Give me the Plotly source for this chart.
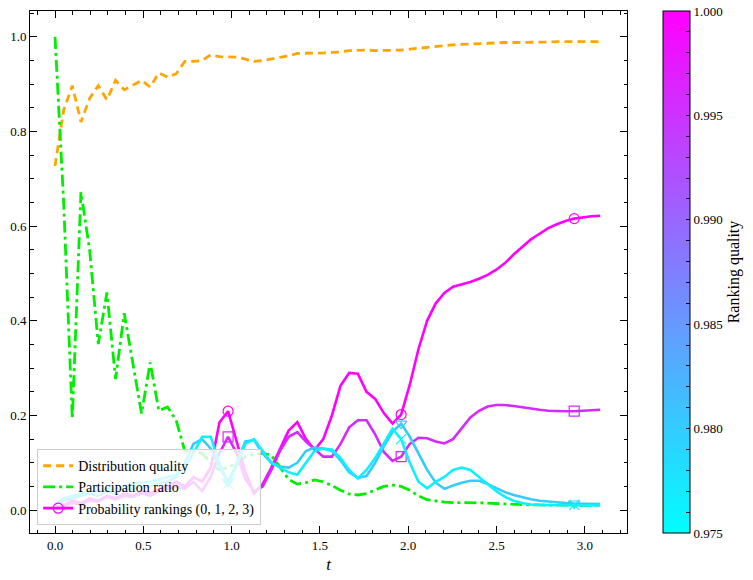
import numpy as np
import plotly.graph_objects as go

# ---------------- data ----------------
dt = 0.049
n_points = 64
t = [round(i * dt, 3) for i in range(n_points)]

distribution_quality = [
    0.727, 0.845, 0.897, 0.820, 0.870, 0.897, 0.867, 0.908, 0.888, 0.898,
    0.908, 0.894, 0.924, 0.915, 0.922, 0.948, 0.948, 0.950, 0.962, 0.958,
    0.958, 0.957, 0.953, 0.948, 0.950, 0.953, 0.956, 0.960, 0.965, 0.965,
    0.966, 0.966, 0.967, 0.968, 0.971, 0.972, 0.972, 0.971, 0.971, 0.971,
    0.972, 0.974, 0.976, 0.978, 0.980, 0.982, 0.983, 0.984, 0.985, 0.986,
    0.987, 0.987, 0.988, 0.988, 0.988, 0.989, 0.989, 0.989, 0.990, 0.990,
    0.990, 0.990, 0.990, 0.990]

participation_ratio = [
    1.000, 0.650, 0.193, 0.672, 0.550, 0.351, 0.460, 0.277, 0.416, 0.310,
    0.204, 0.312, 0.210, 0.218, 0.190, 0.125, 0.125, 0.120, 0.100, 0.085,
    0.090, 0.100, 0.113, 0.118, 0.120, 0.116, 0.090, 0.065, 0.055, 0.058,
    0.064, 0.060, 0.052, 0.042, 0.034, 0.032, 0.035, 0.042, 0.050, 0.053,
    0.050, 0.042, 0.030, 0.022, 0.019, 0.017, 0.016, 0.016, 0.015, 0.015,
    0.015, 0.014, 0.013, 0.012, 0.012, 0.011, 0.011, 0.011, 0.010, 0.010,
    0.010, 0.010, 0.010, 0.010]

rank_0 = [
    0.005, 0.010, 0.020, 0.015, 0.025, 0.020, 0.030, 0.025, 0.035, 0.030,
    0.040, 0.035, 0.045, 0.050, 0.060, 0.050, 0.070, 0.060, 0.090, 0.185,
    0.209, 0.145, 0.080, 0.035, 0.055, 0.090, 0.130, 0.168, 0.186, 0.150,
    0.127, 0.150, 0.200, 0.263, 0.290, 0.288, 0.250, 0.235, 0.205, 0.183,
    0.202, 0.265, 0.340, 0.400, 0.437, 0.459, 0.472, 0.477, 0.482, 0.489,
    0.497, 0.508, 0.522, 0.540, 0.556, 0.572, 0.584, 0.596, 0.604, 0.611,
    0.616, 0.619, 0.621, 0.622]

rank_1 = [
    0.003, 0.008, 0.015, 0.012, 0.020, 0.018, 0.028, 0.022, 0.030, 0.028,
    0.035, 0.030, 0.040, 0.045, 0.050, 0.045, 0.060, 0.040, 0.070, 0.120,
    0.155, 0.120, 0.065, 0.040, 0.050, 0.085, 0.125, 0.155, 0.165, 0.145,
    0.128, 0.113, 0.113, 0.140, 0.175, 0.190, 0.190, 0.160, 0.123, 0.104,
    0.113, 0.140, 0.153, 0.152, 0.145, 0.141, 0.150, 0.172, 0.196, 0.210,
    0.219, 0.222, 0.222, 0.220, 0.217, 0.214, 0.212, 0.210, 0.209, 0.209,
    0.209, 0.210, 0.211, 0.212]

rank_2 = [
    0.010, 0.020, 0.025, 0.030, 0.035, 0.030, 0.040, 0.035, 0.045, 0.045,
    0.050, 0.050, 0.058, 0.060, 0.070, 0.100, 0.140, 0.150, 0.130, 0.090,
    0.060, 0.100, 0.145, 0.148, 0.120, 0.100, 0.092, 0.090, 0.100, 0.125,
    0.132, 0.130, 0.125, 0.105, 0.080, 0.068, 0.072, 0.100, 0.135, 0.165,
    0.183, 0.155, 0.120, 0.085, 0.058, 0.045, 0.052, 0.058, 0.062, 0.062,
    0.055, 0.047, 0.038, 0.032, 0.027, 0.023, 0.020, 0.018, 0.016, 0.015,
    0.014, 0.014, 0.013, 0.013]

rank_3 = [
    0.012, 0.025, 0.030, 0.035, 0.040, 0.040, 0.045, 0.045, 0.050, 0.055,
    0.058, 0.060, 0.065, 0.070, 0.075, 0.090, 0.120, 0.155, 0.155, 0.100,
    0.055, 0.095, 0.140, 0.150, 0.125, 0.100, 0.090, 0.080, 0.075, 0.100,
    0.125, 0.130, 0.128, 0.110, 0.085, 0.067, 0.085, 0.110, 0.140, 0.172,
    0.150, 0.100, 0.060, 0.046, 0.060, 0.070, 0.085, 0.090, 0.085, 0.070,
    0.055, 0.040, 0.028, 0.020, 0.015, 0.012, 0.011, 0.011, 0.011, 0.011,
    0.011, 0.010, 0.010, 0.010]

rankings = [rank_0, rank_1, rank_2, rank_3]
ranking_quality = [1.000, 0.996, 0.980, 0.9765]
markers = ["circle-open", "square-open", "triangle-down-open", "x-thin-open"]
mark_every = 20

cmin, cmax = 0.975, 1.0
x_ticks = [0.0, 0.5, 1.0, 1.5, 2.0, 2.5, 3.0]
y_ticks = [0.0, 0.2, 0.4, 0.6, 0.8, 1.0]
cbar_ticks = [round(0.975 + 0.001 * k, 3) for k in range(26)]
cbar_labels = [f"{v:.3f}" if k % 5 == 0 else "" for k, v in enumerate(cbar_ticks)]


def cool(v):
    f = (v - cmin) / (cmax - cmin)
    f = min(max(f, 0.0), 1.0)
    return f"rgb({int(round(255 * f))},{int(round(255 * (1 - f)))},255)"


FONT = "Liberation Serif"

fig = go.Figure()

fig.add_trace(go.Scatter(
    x=t, y=distribution_quality, mode="lines", name="Distribution quality",
    line=dict(color="orange", width=2.8, dash="8px,5px")))
fig.add_trace(go.Scatter(
    x=t, y=participation_ratio, mode="lines", name="Participation ratio",
    line=dict(color="#00ee00", width=2.8, dash="12px,4px,3px,4px")))

for k, (vals, q, sym) in enumerate(zip(rankings, ranking_quality, markers)):
    c = cool(q)
    fig.add_trace(go.Scatter(
        x=t, y=vals, mode="lines", showlegend=False,
        line=dict(color=c, width=2.6)))
    fig.add_trace(go.Scatter(
        x=t[mark_every::mark_every], y=vals[mark_every::mark_every],
        mode="markers", showlegend=False,
        marker=dict(symbol=sym, color=c, size=10, line=dict(width=1.2, color=c))))

# legend entry for the ranking lines
fig.add_trace(go.Scatter(
    x=[None], y=[None], mode="lines+markers",
    name="Probability rankings (0, 1, 2, 3)",
    line=dict(color=cool(ranking_quality[0]), width=2.6),
    marker=dict(symbol="circle-open", size=10, color=cool(ranking_quality[0]),
                line=dict(width=1.2, color=cool(ranking_quality[0])))))

# colorbar
fig.add_trace(go.Scatter(
    x=[None], y=[None], mode="markers", showlegend=False,
    marker=dict(color=[cmin], cmin=cmin, cmax=cmax,
                colorscale=[[0, "#00ffff"], [1, "#ff00ff"]], showscale=True,
                colorbar=dict(
                    x=1.0603, xanchor="left", xpad=0, y=0.5, yanchor="middle",
                    ypad=0, len=1.0, lenmode="fraction", thickness=27,
                    outlinecolor="black", outlinewidth=1,
                    ticks="inside", ticklen=4, tickcolor="black",
                    tickvals=cbar_ticks, ticktext=cbar_labels,
                    tickfont=dict(family=FONT, size=13, color="black"),
                    title=dict(text="Ranking quality", side="right",
                               font=dict(family=FONT, size=16, color="black"))))))

axis_common = dict(
    showgrid=False, zeroline=False, showline=True, linecolor="black",
    linewidth=1, mirror="ticks", ticks="inside", ticklen=7, tickwidth=1,
    tickcolor="black", tickfont=dict(family=FONT, size=13, color="black"))

fig.update_xaxes(
    range=[-0.1416, 3.239], tickvals=x_ticks, tickformat=".1f",
    minor=dict(dtick=0.1, tick0=0, ticks="inside", ticklen=3.5, tickcolor="black"),
    title=dict(text="<i>t</i>", font=dict(family=FONT, size=17, color="black"),
               standoff=6),
    **axis_common)
fig.update_yaxes(
    range=[-0.0483, 1.0546], tickvals=y_ticks, tickformat=".1f",
    minor=dict(dtick=0.05, tick0=0, ticks="inside", ticklen=3.5, tickcolor="black"),
    **axis_common)

fig.update_layout(
    width=753, height=580,
    margin=dict(l=30, r=126, t=10, b=45),
    plot_bgcolor="white", paper_bgcolor="white",
    font=dict(family=FONT, size=14, color="black"),
    legend=dict(x=0.012, y=0.015, xanchor="left", yanchor="bottom",
                bgcolor="rgba(255,255,255,0.8)", bordercolor="#cccccc",
                borderwidth=1, font=dict(family=FONT, size=14, color="black"),
                itemwidth=30, tracegroupgap=0),
)

fig.write_html("out.html")
